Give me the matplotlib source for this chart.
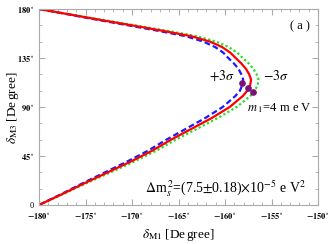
import matplotlib
matplotlib.use("Agg")
import matplotlib.pyplot as plt
from matplotlib.ticker import FixedLocator, MultipleLocator

plt.rcParams['font.family'] = ['Liberation Serif', 'DejaVu Serif']
plt.rcParams['mathtext.fontset'] = 'stix'

# delta_M3 values (degree) at which the curves were read
d_m3 = [0, 10, 20, 30, 40, 50, 60, 70, 80, 90, 100, 105, 110, 115, 120, 125,
        130, 135, 140, 145, 150, 155, 160, 165, 170, 175, 180]

# delta_M1 (degree): best fit, +3 sigma, -3 sigma
d_m1_best = [-180, -177.5, -175.1, -172.6, -170.1, -167.8, -165.8, -163.6, -161.4,
             -159.5, -158.1, -157.6, -157.3, -157.2, -157.4, -157.75, -158.25,
             -158.85, -159.45, -160.3, -161.6, -163.6, -166.7, -170.0, -173.4,
             -176.7, -180]
d_m1_plus = [-180, -177.6, -175.3, -172.9, -170.5, -168.25, -166.3, -164.2, -162.1,
             -160.25, -158.9, -158.4, -158.15, -158.05, -158.25, -158.55, -159.05,
             -159.65, -160.2, -161.05, -162.3, -164.2, -167.2, -170.4, -173.65,
             -176.8, -180]
d_m1_minus = [-180, -177.4, -174.9, -172.3, -169.75, -167.35, -165.3, -163.0, -160.75,
              -158.75, -157.3, -156.8, -156.5, -156.4, -156.6, -156.95, -157.45,
              -158.1, -158.7, -159.6, -160.95, -163.0, -166.2, -169.65, -173.15,
              -176.6, -180]

# m1 = 4 meV points on the three curves (+3s, best, -3s)
m1_x = [-158.15, -157.5, -156.95]
m1_y = [111.8, 107.3, 103.8]

x_ticks = [-180, -175, -170, -165, -160, -155, -150]
y_ticks = [0, 45, 90, 135, 180]

fig = plt.figure(figsize=(3.32, 2.44), dpi=100)
ax = fig.add_axes([0.1175, 0.16, 0.8405, 0.803])

ax.plot(d_m1_minus, d_m3, color='#22e022', lw=1.6, ls=(0, (1, 1.1)))
ax.plot(d_m1_plus, d_m3, color='#1a1aff', lw=1.6, ls=(0, (2.6, 1.4)))
ax.plot(d_m1_best, d_m3, color='#ff0000', lw=1.6)
ax.plot(m1_x, m1_y, 'o', color='#7a107a', ms=3.8, zorder=5)

ax.set_xlim(-180, -150)
ax.set_ylim(0, 180)
ax.xaxis.set_major_locator(FixedLocator(x_ticks))
ax.yaxis.set_major_locator(FixedLocator(y_ticks))
ax.xaxis.set_minor_locator(MultipleLocator(1))
ax.yaxis.set_minor_locator(MultipleLocator(15))
ax.set_xticklabels([r'$\mathbf{%d}\,^{\circ}$' % v for v in x_ticks])
ax.set_yticklabels(['0' if v == 0 else r'$\mathbf{%d}\,^{\circ}$' % v for v in y_ticks])
ax.tick_params(which='both', direction='in', top=True, right=True,
               color='#aaaaaa', labelsize=6)
ax.tick_params(which='major', length=4, width=0.8)
ax.tick_params(which='minor', length=2, width=0.6)
ax.tick_params(axis='x', pad=4)
for s in ax.spines.values():
    s.set_color('#aaaaaa')
    s.set_linewidth(0.8)

ax.set_xlabel(r'$\delta_{\rm M1}$ [De$\,$gree]', fontsize=9.5, labelpad=5)
fig.text(0.038, 0.56, r'$\delta_{\rm M3}$ [De$\,$gree]', fontsize=9.5,
         rotation=90, ha='center', va='center')

ax.text(-152.0, 164, '( a )', fontsize=9, ha='center', va='center')
ax.text(-160.3, 118.5, r'$+3\sigma$', fontsize=10, ha='center', va='center')
ax.text(-154.5, 118.5, r'$-3\sigma$', fontsize=10, ha='center', va='center')
ax.text(-157.6, 89, r'$m_{\;1}$=4 m e V', fontsize=9, ha='left', va='center')
ax.text(-168.6, 15,
        r'$\Delta$m$_s^{\,2}$=(7.5$\pm$0.18)$\times$10$^{-5}$ e V$^2$',
        fontsize=10, ha='left', va='center')

fig.savefig('out.png', dpi=100)
